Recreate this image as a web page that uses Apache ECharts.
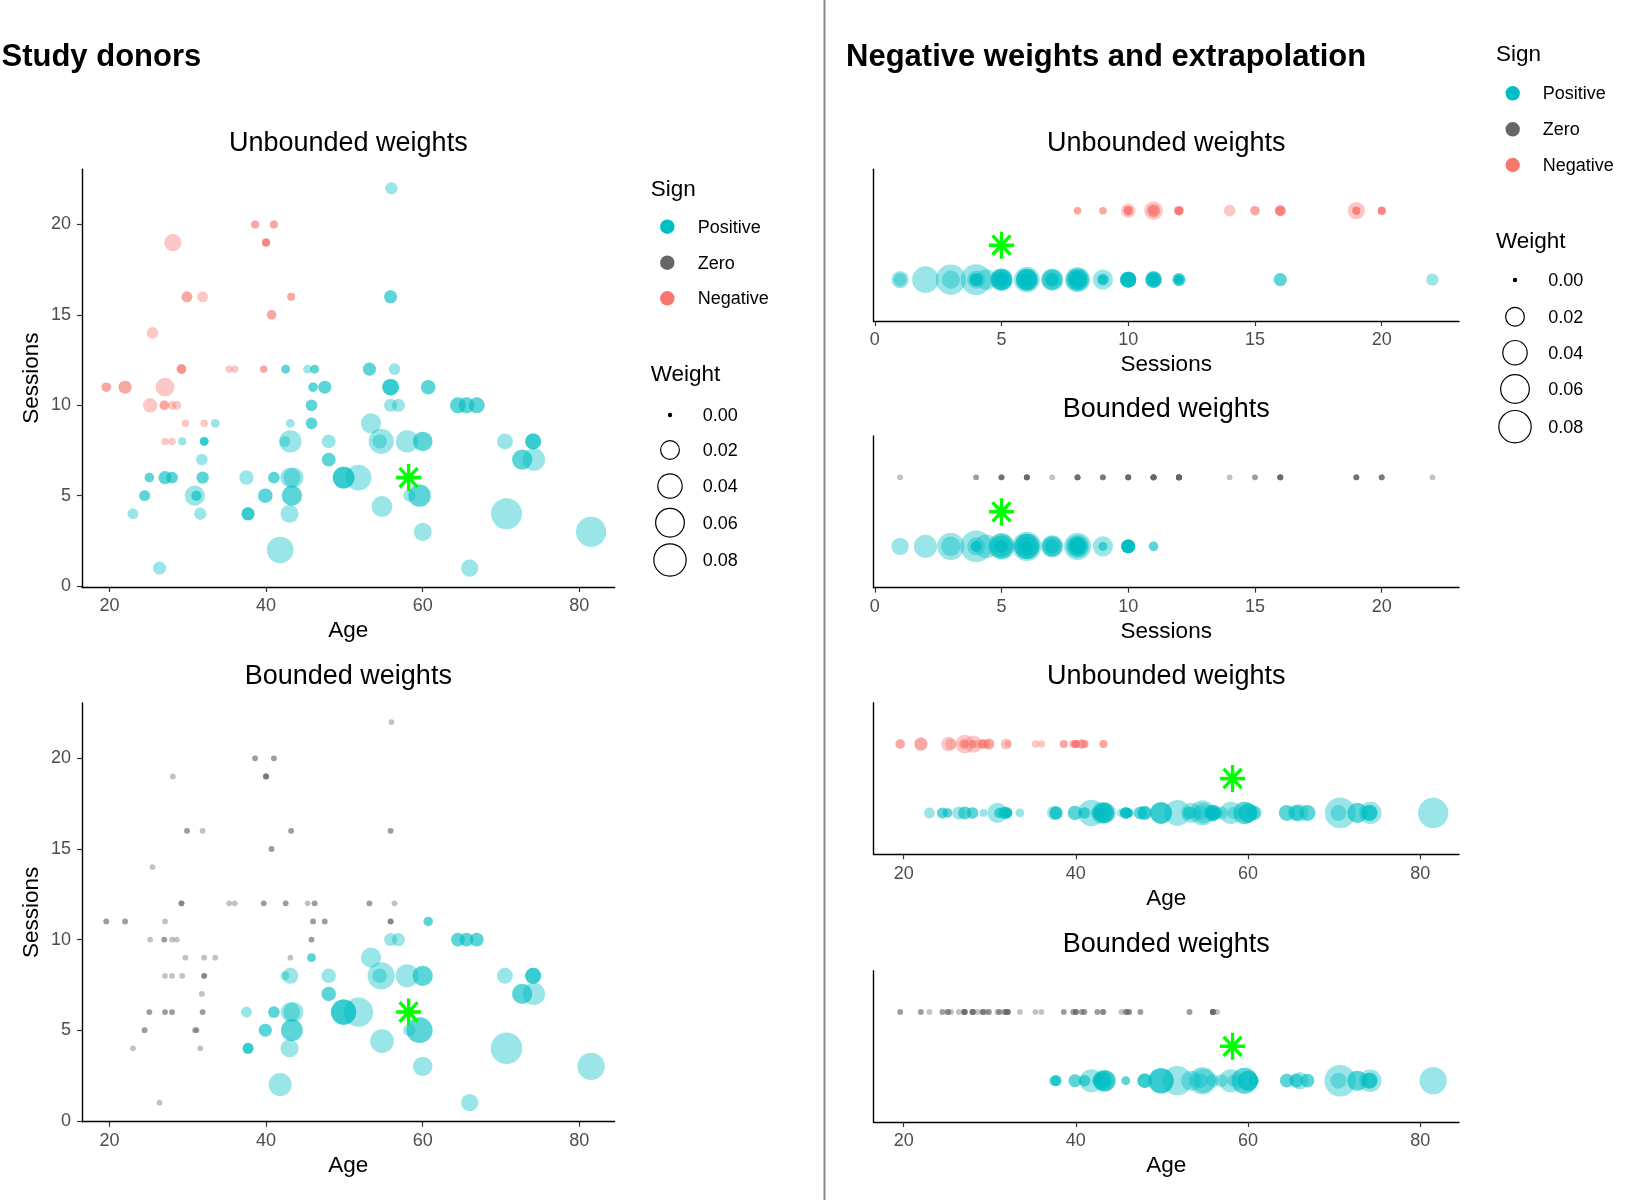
<!DOCTYPE html>
<html>
<head>
<meta charset="utf-8">
<script src="https://cdn.jsdelivr.net/npm/echarts@6/dist/echarts.min.js"></script>
<style>
html,body{margin:0;padding:0;background:#fff;}
#chart{width:1650px;height:1200px;}
</style>
</head>
<body>
<div id="chart"></div>
<script>
// ---------------- data ----------------
const donorAge = [
  56.0, 38.6, 41.0, 28.1, 40.0, 29.9, 31.9, 43.2, 55.9, 40.7,
  25.5, 29.2, 35.3, 36.0, 39.7, 42.5, 45.3, 46.2, 53.2, 56.4,
  19.6, 22.0, 27.1, 46.0, 47.5, 55.9, 60.7, 25.2, 27.0, 28.0,
  28.6, 45.8, 55.9, 56.9, 64.5, 65.6, 66.9, 29.7, 32.1, 33.5,
  43.1, 45.8, 53.4, 27.1, 28.0, 29.3, 32.1, 42.4, 43.1, 48.0,
  54.7, 54.5, 58.0, 60.0, 70.5, 74.1, 31.8, 48.0, 72.7, 74.2,
  25.1, 27.1, 28.0, 31.9, 37.5, 41.0, 43.1, 43.5, 49.9, 51.8,
  24.5, 30.9, 31.1, 39.9, 43.3, 58.3, 59.6, 23.0, 31.6, 37.7,
  43.0, 54.8, 70.7, 60.0, 81.5, 41.8, 26.4, 66.0
];
const donorSessions = [
  22, 20, 20, 19, 19, 16, 16, 16, 16, 15,
  14, 12, 12, 12, 12, 12, 12, 12, 12, 12,
  11, 11, 11, 11, 11, 11, 11, 10, 10, 10,
  10, 10, 10, 10, 10, 10, 10, 9, 9, 9,
  9, 9, 9, 8, 8, 8, 8, 8, 8, 8,
  8, 8, 8, 8, 8, 8, 7, 7, 7, 7,
  6, 6, 6, 6, 6, 6, 6, 6, 6, 6,
  5, 5, 5, 5, 5, 5, 5, 4, 4, 4,
  4, 4.4, 4, 3, 3, 2, 1, 1
];
const weightUnbounded = [
  0.0046, -0.0005, -0.0005, -0.0144, -0.0005, -0.0028, -0.0028, -0.0005, 0.0057, -0.0015,
  -0.0037, -0.0015, -0.0003, -0.0003, -0.0003, 0.001, 0.001, 0.001, 0.0057, 0.0037,
  -0.0015, -0.0057, -0.018, 0.0015, 0.0057, 0.0127, 0.0082, -0.0082, -0.0015, -0.001,
  -0.001, 0.0037, 0.0057, 0.0057, 0.0111, 0.0111, 0.0111, -0.0003, -0.0003, 0.001,
  0.001, 0.0037, 0.0225, -0.0003, -0.0003, 0.0006, 0.001, 0.0028, 0.0297, 0.0069,
  0.0408, 0.0082, 0.0297, 0.0203, 0.0111, 0.0111, 0.0037, 0.0069, 0.0225, 0.0297,
  0.0015, 0.0057, 0.0037, 0.0046, 0.0082, 0.0037, 0.0225, 0.0225, 0.0272, 0.0439,
  0.0028, 0.0225, 0.002, 0.0082, 0.0225, 0.0046, 0.0297, 0.0028, 0.0046, 0.0057,
  0.0163, 0.0248, 0.068, 0.0163, 0.065, 0.047, 0.0057, 0.0144
];
const weightBounded = [
  0, 0, 0, 0, 0, 0, 0, 0, 0, 0,
  0, 0, 0, 0, 0, 0, 0, 0, 0, 0,
  0, 0, 0, 0, 0, 0, 0.0015, 0, 0, 0,
  0, 0, 0.0057, 0.0057, 0.0069, 0.0069, 0.0069, 0, 0, 0,
  0, 0.001, 0.0225, 0, 0, 0, 0, 0.001, 0.0111, 0.0082,
  0.05, 0.0082, 0.0323, 0.0225, 0.0111, 0.0111, 0, 0.0082, 0.0225, 0.0297,
  0, 0, 0, 0, 0.0028, 0.0037, 0.0203, 0.0225, 0.0408, 0.06,
  0, 0, 0, 0.0057, 0.0272, 0.0046, 0.0439, 0, 0, 0.0028,
  0.0163, 0.0351, 0.072, 0.0203, 0.05, 0.0323, 0, 0.0144
];
// number of donors sharing the same (age, sessions) point
const donorCount = [
  1, 2, 2, 1, 4, 2, 1, 2, 2, 2,
  1, 3, 1, 1, 2, 2, 1, 2, 2, 1,
  2, 2, 1, 2, 2, 3, 2, 1, 2, 1,
  1, 2, 1, 1, 2, 2, 2, 1, 1, 1,
  1, 2, 1, 1, 1, 1, 3, 1, 1, 1,
  1, 1, 1, 2, 1, 3, 1, 2, 2, 1,
  2, 2, 2, 2, 1, 2, 1, 1, 3, 1,
  2, 1, 2, 2, 2, 1, 2, 1, 1, 3,
  1, 1, 1, 1, 1, 1, 1, 1
];
const targetAge = 58.2;
const targetSessions = 6;
const targetSessionsRight = 5;

const signNames = ['Positive', 'Zero', 'Negative'];
const ageTicks = [20, 40, 60, 80];
const sessionTicks = [0, 5, 10, 15, 20];
const weightBreaks = [0, 0.02, 0.04, 0.06, 0.08];
const weightBreakLabels = ['0.00', '0.02', '0.04', '0.06', '0.08'];

// ---------------- style ----------------
const FONT = '"Liberation Sans", Arial, Helvetica, sans-serif';
const signColors = { Positive: '#00BFC4', Zero: '#666666', Negative: '#F8766D' };
const rowOfSign = { Positive: 1, Zero: 2, Negative: 2 };
const targetRow = 1.5;
function signOf(w) { return w > 0 ? 'Positive' : (w < 0 ? 'Negative' : 'Zero'); }
function radius(w) { return 2.9 + 48 * Math.sqrt(Math.abs(w)); }

const grids = [
  { left: 82, top: 169.3, width: 532.6, height: 417.7 },
  { left: 82, top: 703, width: 532.6, height: 418.7 },
  { left: 873.5, top: 169.3, width: 585.5, height: 151.7 },
  { left: 873.5, top: 436, width: 585.5, height: 151.7 },
  { left: 873.5, top: 702.7, width: 585.5, height: 151.6 },
  { left: 873.5, top: 970.7, width: 585.5, height: 151.3 }
];
// panel definitions: x variable, y variable, weights
const panels = [
  { x: 'age', y: 'sessions', w: weightUnbounded },
  { x: 'age', y: 'sessions', w: weightBounded },
  { x: 'sessions', y: 'sign', w: weightUnbounded },
  { x: 'sessions', y: 'sign', w: weightBounded },
  { x: 'age', y: 'sign', w: weightUnbounded },
  { x: 'age', y: 'sign', w: weightBounded }
];

const axisLineStyle = { color: '#000', width: 1.4 };
const xAxes = [], yAxes = [], series = [];
panels.forEach((p, gi) => {
  const isAge = p.x === 'age';
  xAxes.push({
    gridIndex: gi, type: 'value',
    min: isAge ? 16.5 : -0.05, max: isAge ? 84.5 : 23.05,
    axisLine: { show: true, onZero: false, lineStyle: axisLineStyle },
    axisTick: { show: true, length: 5, customValues: isAge ? ageTicks : sessionTicks, lineStyle: { color: '#333', width: 1.2 } },
    axisLabel: { show: true, customValues: isAge ? ageTicks : sessionTicks, color: '#4D4D4D', fontSize: 18, fontFamily: FONT, margin: 10.5 },
    splitLine: { show: false }
  });
  if (p.y === 'sessions') {
    yAxes.push({
      gridIndex: gi, type: 'value', min: -0.05, max: 23.05,
      axisLine: { show: true, onZero: false, lineStyle: axisLineStyle },
      axisTick: { show: true, length: 5, customValues: sessionTicks, lineStyle: { color: '#333', width: 1.2 } },
      axisLabel: { show: true, customValues: sessionTicks, color: '#4D4D4D', fontSize: 18, fontFamily: FONT, margin: 11 },
      splitLine: { show: false }
    });
  } else {
    yAxes.push({
      gridIndex: gi, type: 'value', min: 0.4, max: 2.6,
      axisLine: { show: true, onZero: false, lineStyle: axisLineStyle },
      axisTick: { show: false }, axisLabel: { show: false }, splitLine: { show: false }
    });
  }
  signNames.forEach(s => {
    const data = [];
    for (let i = 0; i < donorAge.length; i++) {
      const w = p.w[i];
      if (signOf(w) !== s) continue;
      const xv = isAge ? donorAge[i] : donorSessions[i];
      const yv = p.y === 'sessions' ? donorSessions[i] : rowOfSign[s];
      for (let k = 0; k < donorCount[i]; k++) data.push([xv, yv, w]);
    }
    series.push({
      type: 'scatter', name: s, xAxisIndex: gi, yAxisIndex: gi,
      data: data,
      symbol: 'circle',
      symbolSize: v => 2 * radius(v[2]),
      itemStyle: { color: signColors[s], opacity: 0.4 },
      emphasis: { disabled: true },
      silent: true, clip: false, z: 2
    });
  });
  // target donor (green asterisk)
  const tx = isAge ? targetAge : targetSessionsRight;
  const ty = p.y === 'sessions' ? targetSessions : targetRow;
  series.push({
    type: 'scatter', name: 'Target', xAxisIndex: gi, yAxisIndex: gi,
    data: [[tx, ty]],
    symbol: 'path://M0,-1L0,1M-1,0L1,0M-0.72,-0.72L0.72,0.72M-0.72,0.72L0.72,-0.72',
    symbolSize: [25, 27],
    itemStyle: { color: '#00FF00', borderColor: '#00FF00', borderWidth: 3.4, opacity: 1 },
    emphasis: { disabled: true },
    silent: true, clip: false, z: 5
  });
});

// ---------------- text & legends ----------------
const graphic = [];
function txt(text, x, y, size, opts) {
  opts = opts || {};
  graphic.push({
    type: 'text', x: x, y: y, rotation: opts.rot || 0, silent: true, z: 10,
    style: {
      text: text, x: 0, y: 0,
      font: (opts.bold ? 'bold ' : '') + size + 'px ' + FONT,
      fill: opts.color || '#000',
      align: opts.align || 'center', textAlign: opts.align || 'center',
      verticalAlign: 'middle', textVerticalAlign: 'middle'
    }
  });
}
// divider
graphic.push({ type: 'line', silent: true, shape: { x1: 824.5, y1: 0, x2: 824.5, y2: 1200 }, style: { stroke: '#8a8a8a', lineWidth: 2 } });

txt('Study donors', 1.5, 57.5, 31, { bold: true, align: 'left' });
txt('Negative weights and extrapolation', 846, 57.5, 31, { bold: true, align: 'left' });

const subtitles = ['Unbounded weights', 'Bounded weights', 'Unbounded weights', 'Bounded weights', 'Unbounded weights', 'Bounded weights'];
const xTitles = ['Age', 'Age', 'Sessions', 'Sessions', 'Age', 'Age'];
grids.forEach((g, i) => {
  const cx = g.left + g.width / 2;
  txt(subtitles[i], cx, g.top - 26, 27);
  txt(xTitles[i], cx, g.top + g.height + 44, 22.5);
});
txt('Sessions', 31.5, grids[0].top + grids[0].height / 2, 22.5, { rot: Math.PI / 2 });
txt('Sessions', 31.5, grids[1].top + grids[1].height / 2, 22.5, { rot: Math.PI / 2 });

function legend(L) {
  txt('Sign', L.x0, L.signTitleY, 22.5, { align: 'left' });
  signNames.forEach((s, i) => {
    graphic.push({ type: 'circle', silent: true, shape: { cx: L.dotX, cy: L.signYs[i], r: 7.2 }, style: { fill: signColors[s] } });
    txt(s, L.labelX, L.signYs[i] + 1, 18, { align: 'left' });
  });
  txt('Weight', L.x0, L.weightTitleY, 22.5, { align: 'left' });
  weightBreaks.forEach((b, i) => {
    const r = b === 0 ? 2.2 : radius(b) - 0.3;
    graphic.push({ type: 'circle', silent: true, shape: { cx: L.circX, cy: L.wYs[i], r: r },
      style: b === 0 ? { fill: '#000' } : { fill: 'none', stroke: '#000', lineWidth: 1.2 } });
    txt(weightBreakLabels[i], L.wLabelX, L.wYs[i] + 1, 18, { align: 'left' });
  });
}
legend({ x0: 650.7, signTitleY: 189.5, dotX: 667.3, labelX: 697.7, signYs: [226.7, 262.7, 298.3],
  weightTitleY: 374.8, circX: 670, wLabelX: 702.7, wYs: [415, 450, 486, 522.7, 560] });
legend({ x0: 1496, signTitleY: 54.8, dotX: 1512.7, labelX: 1542.7, signYs: [93.3, 129.3, 165],
  weightTitleY: 242.2, circX: 1515, wLabelX: 1548.3, wYs: [280, 316.7, 352.7, 389, 426.7] });

const chart = echarts.init(document.getElementById('chart'), null, { renderer: 'canvas', width: 1650, height: 1200 });
chart.setOption({
  animation: false,
  backgroundColor: '#fff',
  textStyle: { fontFamily: FONT },
  grid: grids,
  xAxis: xAxes,
  yAxis: yAxes,
  series: series,
  graphic: graphic
});
</script>
</body>
</html>
